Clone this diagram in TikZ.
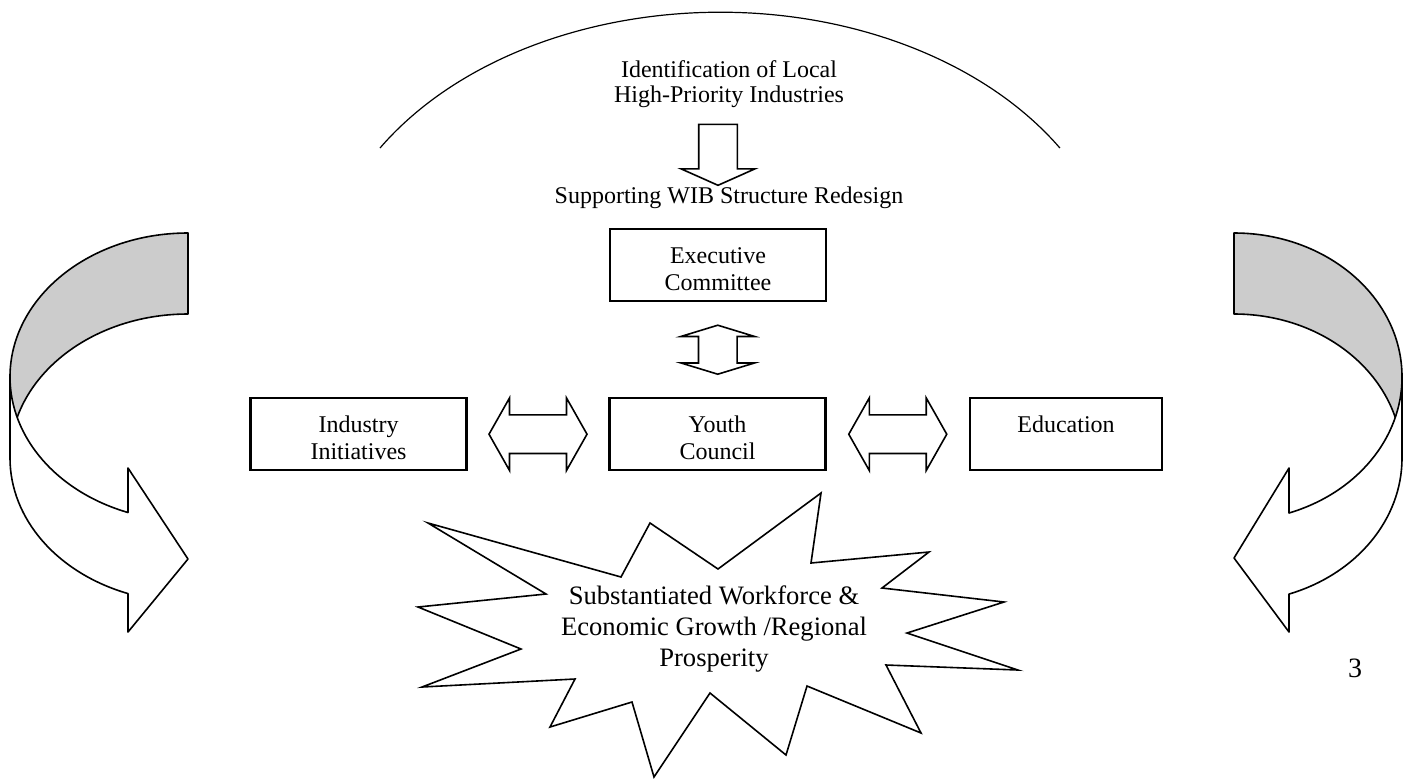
\documentclass[tikz,border=0pt]{standalone}
\usepackage{fontspec}
\setmainfont{Liberation Serif}
\usetikzlibrary{positioning,calc,shapes.arrows}
\tikzset{
	wibbox/.style={draw, line width=1.2pt, inner sep=0pt, text width=#1, align=center,
		text height=17pt, text depth=19pt, anchor=north},
	wibbox/.default=108pt,
	twoway/.style={double arrow, draw, line width=0.8pt, inner xsep=0pt, inner ysep=9.25pt,
		double arrow head extend=8.5pt, double arrow tip angle=121,
		minimum height=49pt, minimum width=35.5pt},
	oneway/.style={single arrow, draw, line width=0.8pt, inner xsep=0pt, inner ysep=9.25pt,
		single arrow head extend=8.75pt, single arrow tip angle=132,
		minimum height=30.5pt, minimum width=36pt},
	ribbon/.style={draw, line width=0.8pt, line join=round},
	burst/.style={draw, line width=0.8pt, fill=white}
}
\definecolor{backColor}{HTML}{CCCCCC}
\newcommand{\plain}{\fontsize{12}{13.8}\selectfont}

\begin{document}
\begin{tikzpicture}[x=0.5pt, y=-0.5pt, font=\plain]
	\useasboundingbox (0,0) rectangle (1411,778);
	% upper arc
	\draw[line width=0.6pt] (380,148) arc[start angle=211.8, end angle=328.2, x radius=400, y radius=287];
	\node[align=center, font=\fontsize{12}{12.5}\selectfont] (ident) at (729,84.5) {Identification of Local\\High-Priority Industries};
	\node[oneway, rotate=-90] (down) at (718,150.5) {};
	\node (redesign) at (729,198) {Supporting WIB Structure Redesign};
	
	\node[wibbox] (exec) at (718,228) {Executive\\Committee};
	\node[wibbox] (ind) at (358.5,397) {Industry\\Initiatives};
	\node[wibbox] (youth) at (717.5,397) {Youth\\Council};
	\node[wibbox=96pt] (edu) at (1066,397) {Education};
	
	\node[twoway] (indyouth) at ($(ind.east)!.5!(youth.west)$) {};
	\node[twoway] (youthedu) at ($(youth.east)!.5!(edu.west)$) {};
	\node[twoway, rotate=90, minimum height=24.5pt, minimum width=36pt,
		double arrow head extend=8.75pt, double arrow tip angle=146] (execyouth) at ($(exec.south)!.5!(youth.north)$) {};
	
	% left ribbon
	\path[ribbon, fill=backColor] (188,233) arc[start angle=270, end angle=180, x radius=178, y radius=144]
		-- (10,458) arc[start angle=180, end angle=270, x radius=178, y radius=144] -- cycle;
	\path[ribbon, fill=white] (10,458) arc[start angle=180, end angle=109.7, x radius=178, y radius=144]
		-- (128,632) -- (188,559) -- (128,468) -- (128,512.5)
		arc[start angle=109.7, end angle=180, x radius=178, y radius=144] -- cycle;
	% right ribbon
	\path[ribbon, fill=backColor] (1234,233) arc[start angle=270, end angle=360, x radius=168, y radius=144]
		-- (1402,458) arc[start angle=0, end angle=-90, x radius=168, y radius=144] -- cycle;
	\path[ribbon, fill=white] (1402,458) arc[start angle=0, end angle=70.9, x radius=168, y radius=144]
		-- (1289,632) -- (1234,558) -- (1289,468) -- (1289,513)
		arc[start angle=70.9, end angle=0, x radius=168, y radius=144] -- cycle;
	
	% starburst
	\path[burst] (428,523) -- (621,577) -- (650,523) -- (718,569) -- (821,493) -- (811,563)
		-- (929,552) -- (882,588) -- (1004,602) -- (907,633) -- (1018,670) -- (886,665)
		-- (921,733) -- (807,686) -- (786,755) -- (710,693) -- (654,777) -- (632,702)
		-- (550,727) -- (575,679) -- (422,687) -- (521,649) -- (418,607) -- (546,594) -- cycle;
	\node[align=center, font=\fontsize{13.3}{15.5}\selectfont] (goal) at (714,629) {Substantiated Workforce \&\\Economic Growth /Regional\\Prosperity};
	
	\node[font=\fontsize{14}{16}\selectfont] (pagenum) at (1355,668) {3};
\end{tikzpicture}
\end{document}
